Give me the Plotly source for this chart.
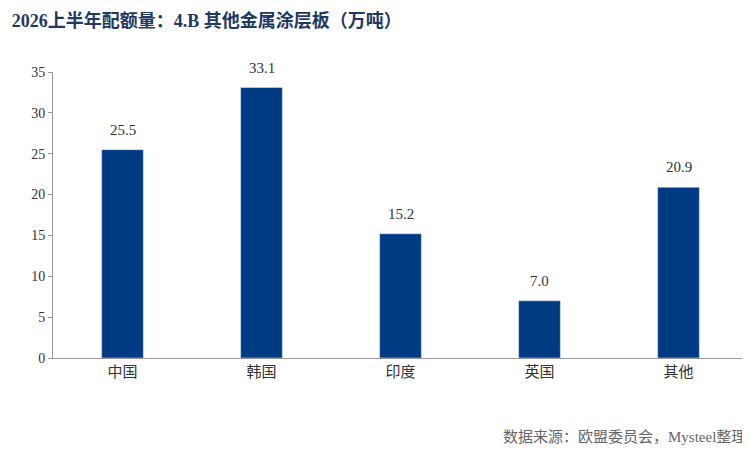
import plotly.graph_objects as go

regions = ['中国', '韩国', '印度', '英国', '其他']
quota = [25.5, 33.1, 15.2, 7.0, 20.9]
y_ticks = [0, 5, 10, 15, 20, 25, 30, 35]

font_family = 'Liberation Serif, Noto Sans CJK SC'

fig = go.Figure()
fig.add_trace(go.Bar(
    x=regions,
    y=quota,
    width=0.3,
    marker=dict(color='#003A82'),
))

# value labels sit a bit above each bar
labels = [dict(x=r, y=v, text='%.1f' % v, showarrow=False, yanchor='bottom', yshift=10,
               font=dict(size=15, color='#333333')) for r, v in zip(regions, quota)]
labels.append(dict(text='数据来源：欧盟委员会，Mysteel整理', xref='paper', yref='paper',
                   x=1.0, y=-0.24, xanchor='right', yanchor='top', showarrow=False,
                   font=dict(size=15, color='#666666', family=font_family)))

fig.update_layout(
    width=750, height=450,
    margin=dict(l=45, r=10, t=64, b=100),
    plot_bgcolor='white', paper_bgcolor='white',
    font=dict(family=font_family, size=14, color='#333333'),
    showlegend=False,
    title=dict(text='<b>2026上半年配额量：4.B 其他金属涂层板（万吨）</b>',
               x=0.005, xanchor='left', y=0.985, yanchor='top',
               font=dict(size=18, color='#1F3864', family=font_family)),
    annotations=labels,
)
fig.update_yaxes(range=[0, 35], tickvals=y_ticks, showgrid=False, showline=True,
                 linecolor='#999999', ticks='outside', ticklen=4, tickcolor='#999999',
                 zeroline=False)
fig.update_xaxes(showline=True, linecolor='#999999', ticks='outside', ticklen=0,
                 tickfont=dict(size=15))

fig.write_html('out.html')
